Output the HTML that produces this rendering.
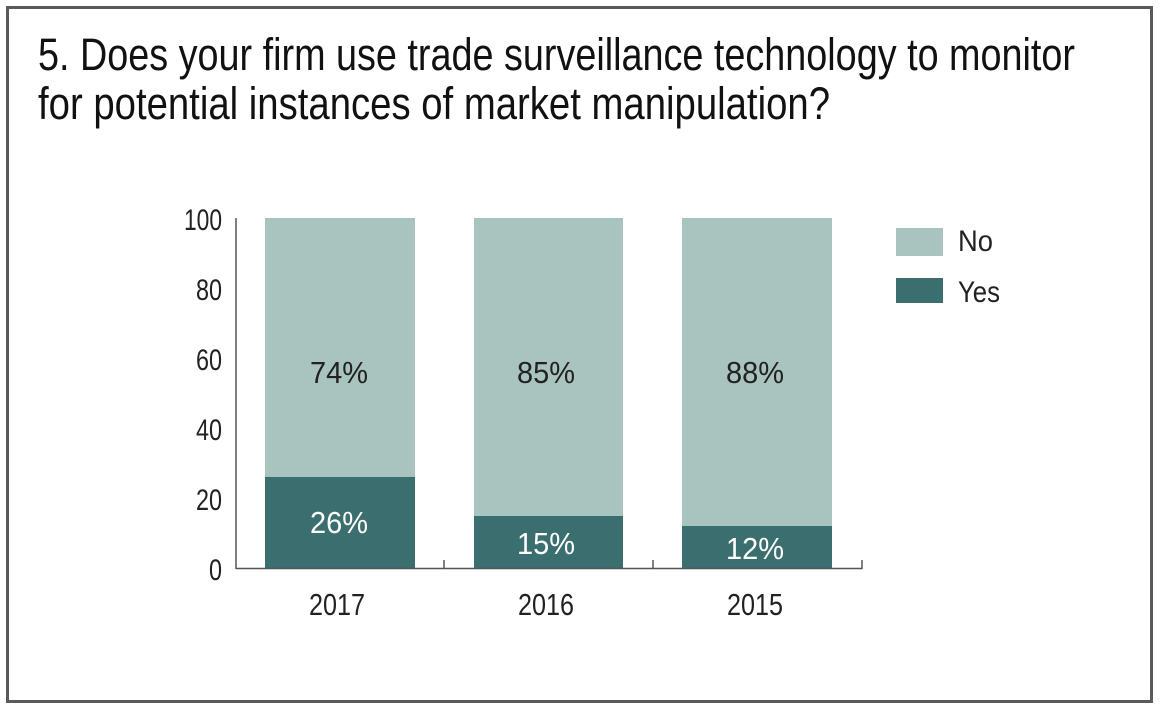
<!DOCTYPE html>
<html><head><meta charset="utf-8"><style>
html,body{margin:0;padding:0;background:#fff;}
svg{display:block;font-family:"Liberation Sans Narrow","Liberation Sans",sans-serif;}
</style></head><body>
<svg width="1160" height="716" viewBox="0 0 1160 716">
<rect x="0" y="0" width="1160" height="716" fill="#fff"/>
<rect x="7.5" y="7.5" width="1144" height="694" fill="none" stroke="#5a5a5a" stroke-width="3"/>
<text x="38" y="70" font-size="45" fill="#111" textLength="1037" lengthAdjust="spacingAndGlyphs">5. Does your firm use trade surveillance technology to monitor</text>
<text x="38" y="119" font-size="45" fill="#111" textLength="792" lengthAdjust="spacingAndGlyphs">for potential instances of market manipulation?</text>
<g fill="#a9c4be">
<rect x="265" y="218" width="150" height="350"/>
<rect x="474" y="218" width="149" height="350"/>
<rect x="682" y="218" width="150" height="350"/>
</g>
<g fill="#3b6e6e">
<rect x="265" y="477" width="150" height="91"/>
<rect x="474" y="516" width="149" height="52"/>
<rect x="682" y="526" width="150" height="42"/>
</g>
<g stroke="#555" stroke-width="1.5" fill="none">
<line x1="236" y1="218" x2="236" y2="569"/>
<line x1="236" y1="568.5" x2="862" y2="568.5"/>
<line x1="444" y1="560" x2="444" y2="569"/>
<line x1="653" y1="560" x2="653" y2="569"/>
<line x1="862" y1="560" x2="862" y2="569"/>
</g>
<g font-size="30" fill="#222" text-anchor="end" lengthAdjust="spacingAndGlyphs">
<text x="222" y="230" textLength="38" lengthAdjust="spacingAndGlyphs">100</text>
<text x="222" y="300" textLength="26" lengthAdjust="spacingAndGlyphs">80</text>
<text x="222" y="370" textLength="26" lengthAdjust="spacingAndGlyphs">60</text>
<text x="222" y="440" textLength="26" lengthAdjust="spacingAndGlyphs">40</text>
<text x="222" y="510" textLength="26" lengthAdjust="spacingAndGlyphs">20</text>
<text x="222" y="580" textLength="13" lengthAdjust="spacingAndGlyphs">0</text>
</g>
<g font-size="31" fill="#222" text-anchor="middle">
<text x="337" y="615" textLength="56" lengthAdjust="spacingAndGlyphs">2017</text>
<text x="546" y="615" textLength="56" lengthAdjust="spacingAndGlyphs">2016</text>
<text x="755" y="615" textLength="56" lengthAdjust="spacingAndGlyphs">2015</text>
<text x="339" y="383" textLength="58" lengthAdjust="spacingAndGlyphs">74%</text>
<text x="546" y="383" textLength="58" lengthAdjust="spacingAndGlyphs">85%</text>
<text x="755" y="383" textLength="58" lengthAdjust="spacingAndGlyphs">88%</text>
</g>
<g font-size="31" fill="#fff" text-anchor="middle">
<text x="339" y="533" textLength="58" lengthAdjust="spacingAndGlyphs">26%</text>
<text x="546" y="554" textLength="58" lengthAdjust="spacingAndGlyphs">15%</text>
<text x="755" y="559" textLength="58" lengthAdjust="spacingAndGlyphs">12%</text>
</g>
<rect x="896" y="228" width="47" height="28" fill="#a9c4be"/>
<rect x="896" y="278" width="47" height="25" fill="#3b6e6e"/>
<text x="958" y="251" font-size="30" fill="#222" textLength="35" lengthAdjust="spacingAndGlyphs">No</text>
<text x="958" y="302" font-size="30" fill="#222" textLength="42" lengthAdjust="spacingAndGlyphs">Yes</text>
</svg>
</body></html>
